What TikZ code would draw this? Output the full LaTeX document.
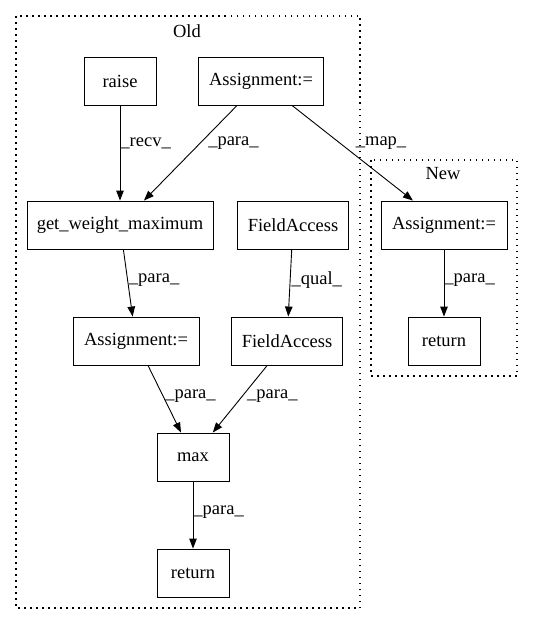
\documentclass[tikz,border=0pt]{standalone}
\usepackage{fontspec}
\setmainfont{Liberation Serif}
\usetikzlibrary{arrows.meta, positioning}

\tikzset{
    box/.style={draw, line width=0.9pt, minimum height=48pt, inner sep=0pt,
        font=\fontsize{18.5}{22}\selectfont},
    lbl/.style={anchor=west, inner sep=0pt, font=\fontsize{18.5}{22}\selectfont},
    edge/.style={line width=0.9pt, -{Triangle[length=10pt,width=7.5pt]}},
    cluster/.style={line width=1.4pt, dash pattern=on 1.5pt off 4.5pt}
}

\begin{document}
\begin{tikzpicture}[x=1pt, y=-1pt]
    \useasboundingbox (0,0) rectangle (533,624);

    % clusters
    \draw[cluster] (16,16) rectangle (360,608);
    \node[lbl, anchor=center] (oldlbl) at (187,31) {Old};
    \draw[cluster] (371,160) rectangle (517,376);
    \node[lbl, anchor=center] (newlbl) at (443,174) {New};

    % old nodes
    \node[box, minimum width=72pt] (raise) at (120,81) {raise};
    \node[box, minimum width=125pt] (assign1) at (261,81) {Assignment:=};
    \node[box, minimum width=186pt] (getmax) at (120,225) {get\_weight\_maximum};
    \node[box, minimum width=111pt] (field1) at (293,225) {FieldAccess};
    \node[box, minimum width=126pt] (assign2) at (136,341) {Assignment:=};
    \node[box, minimum width=111pt] (field2) at (287,341) {FieldAccess};
    \node[box, minimum width=72pt] (max) at (193,457) {max};
    \node[box, minimum width=72pt] (ret1) at (193,573) {return};

    % new nodes
    \node[box, minimum width=126pt] (assign3) at (444,225) {Assignment:=};
    \node[box, minimum width=72pt] (ret2) at (444,341) {return};

    % edges
    \draw[edge] (raise) -- node[lbl, pos=0.4] {\_recv\_} (getmax);
    \draw[edge] (assign1) -- node[lbl, pos=0.4, xshift=8pt] {\_para\_} (getmax);
    \draw[edge] (assign1) -- node[lbl, pos=0.4, xshift=15pt] {\_map\_} (assign3);
    \draw[edge] (getmax) -- node[lbl, pos=0.45, xshift=1pt] {\_para\_} (assign2);
    \draw[edge] (field1) -- node[lbl, pos=0.45, xshift=1pt] {\_qual\_} (field2);
    \draw[edge] (assign2) -- node[lbl, pos=0.45, xshift=2pt] {\_para\_} (max);
    \draw[edge] (field2) -- node[lbl, pos=0.45, xshift=4pt] {\_para\_} (max);
    \draw[edge] (max) -- node[lbl, pos=0.45] {\_para\_} (ret1);
    \draw[edge] (assign3) -- node[lbl, pos=0.45] {\_para\_} (ret2);
\end{tikzpicture}
\end{document}
